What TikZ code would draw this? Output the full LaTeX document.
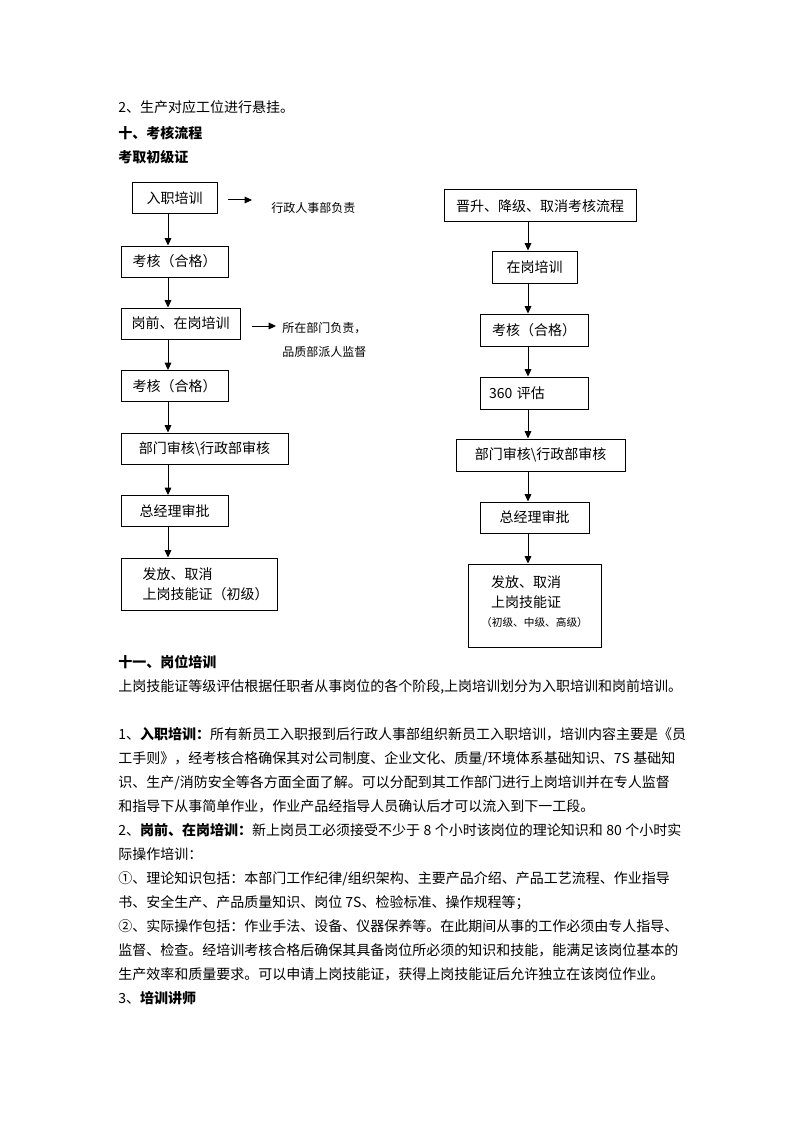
\documentclass[tikz,border=0pt]{standalone}
\usepackage{fontspec}
\setmainfont{Noto Sans CJK SC}
\usetikzlibrary{arrows.meta}
\XeTeXlinebreaklocale "zh"
\XeTeXlinebreakskip=0pt plus 2pt minus 0.3pt
\newcommand{\jline}[1]{\makebox[425.25pt][s]{#1}}
\newcommand{\wordgap}{\hspace{0.25em}}
\newcommand{\bodyfont}{\fontsize{10.5pt}{15pt}\selectfont}
\newcommand{\notefont}{\fontsize{9pt}{18pt}\selectfont}
\newcommand{\tinyfont}{\fontsize{8pt}{10pt}\selectfont}

\begin{document}
\begin{tikzpicture}[
    x=0.75pt, y=-0.75pt,
    box/.style={draw, line width=0.75pt, minimum height=23.25pt, inner sep=0pt, font=\bodyfont},
    note/.style={font=\notefont, inner sep=0pt, align=left},
    txtline/.style={font=\bodyfont, anchor=base west, inner sep=0pt},
    arr/.style={-{Triangle[length=5.5pt, width=5pt]}, line width=0.75pt},
]
\fill[white] (0,0) rectangle (794,1123);
\useasboundingbox (0,0) rectangle (794,1123);

% --- Heading lines ---
\node[txtline] (h1) at (118,113) {2、生产对应工位进行悬挂。};
\node[txtline] (h2) at (118,139) {\textbf{十、考核流程}};
\node[txtline] (h3) at (118,163) {\textbf{考取初级证}};

% --- Left column: initial certificate ---
\coordinate (lx) at (168,0);
\node[box, minimum width=63.75pt] (in1) at (174.5,198.5) {入职培训};
\node[box, minimum width=80.25pt] (ch1) at (174.5,261.5) {考核（合格）};
\node[box, minimum width=89.25pt] (tr1) at (180.5,323.5) {岗前、在岗培训};
\node[box, minimum width=80.25pt] (ch2) at (174.5,386) {考核（合格）};
\node[box, minimum width=125.25pt] (rv1) at (204.5,448.5) {部门审核\textbackslash 行政部审核};
\node[box, minimum width=80.25pt] (gm1) at (174.5,511) {总经理审批};
\node[box, anchor=west, align=left, inner xsep=6.75pt, minimum height=39pt] (is1) at (121,584) {\hspace*{9pt}发放、取消\\\hspace*{9pt}上岗技能证（初级）};

% --- Left column: side notes ---
\node[note, anchor=west] (nt1) at (271,208) {行政人事部负责};
\node[note, anchor=west] (nt2) at (282,340) {所在部门负责，\\品质部派人监督};
\coordinate (nt1s) at (228,200);
\coordinate (nt1e) at (252,200);
\coordinate (nt2s) at (252,326);
\coordinate (nt2e) at (276,326);

% --- Right column: promotion / demotion ---
\coordinate (rx) at (528,0);
\node[box, minimum width=144pt, minimum height=24pt] (pr0) at (540,206) {晋升、降级、取消考核流程};
\node[box, minimum width=63.75pt, minimum height=24pt] (tr2) at (534.5,267) {在岗培训};
\node[box, minimum width=81pt, minimum height=24pt] (ch3) at (534,330) {考核（合格）};
\node[box, text width=67.5pt, align=left, inner xsep=6.75pt, minimum height=24pt] (ev1) at (534,393) {360 评估};
\node[box, minimum width=126.75pt, minimum height=24pt] (rv2) at (540.5,455) {部门审核\textbackslash 行政部审核};
\node[box, minimum width=81.75pt] (gm2) at (534.5,517.5) {总经理审批};
\node[box, align=left, minimum width=99.75pt, minimum height=62.25pt] (is2) at (534.5,605.5) {\hspace*{7.5pt}发放、取消\\\hspace*{7.5pt}上岗技能证\\[-1.25pt]{\tinyfont（初级、中级、高级）\rule[-6.5pt]{0pt}{0pt}}};

% === Arrows: left column ===
\draw[arr] (in1.south -| lx) -- (ch1.north -| lx);
\draw[arr] (ch1.south -| lx) -- (tr1.north -| lx);
\draw[arr] (tr1.south -| lx) -- (ch2.north -| lx);
\draw[arr] (ch2.south -| lx) -- (rv1.north -| lx);
\draw[arr] (rv1.south -| lx) -- (gm1.north -| lx);
\draw[arr] (gm1.south -| lx) -- (is1.north -| lx);
\draw[arr] (nt1s) -- (nt1e);
\draw[arr] (nt2s) -- (nt2e);

% === Arrows: right column ===
\draw[arr] (pr0.south -| rx) -- (tr2.north -| rx);
\draw[arr] (tr2.south -| rx) -- (ch3.north -| rx);
\draw[arr] (ch3.south -| rx) -- (ev1.north -| rx);
\draw[arr] (ev1.south -| rx) -- (rv2.north -| rx);
\draw[arr] (rv2.south -| rx) -- (gm2.north -| rx);
\draw[arr] (gm2.south -| rx) -- (is2.north -| rx);

% --- Section 11: text lines ---
\foreach \txt [count=\i from 0] in {
    {\textbf{十一、岗位培训}},
    {\jline{上岗技能证等级评估根据任职者从事岗位的各个阶段,上岗培训划分为入职培训和岗前培训。}},
    {},
    {\jline{1、\textbf{入职培训：}所有新员工入职报到后行政人事部组织新员工入职培训，培训内容主要是《员}},
    {\jline{工手则》，经考核合格确保其对公司制度、企业文化、质量/环境体系基础知识、7S\wordgap 基础知}},
    {\jline{识、生产/消防安全等各方面全面了解。可以分配到其工作部门进行上岗培训并在专人监督}},
    {和指导下从事简单作业，作业产品经指导人员确认后才可以流入到下一工段。},
    {\jline{2、\textbf{岗前、在岗培训：}新上岗员工必须接受不少于\wordgap 8\wordgap 个小时该岗位的理论知识和\wordgap 80\wordgap 个小时实}},
    {际操作培训：},
    {\jline{①、理论知识包括：本部门工作纪律/组织架构、主要产品介绍、产品工艺流程、作业指导}},
    {书、安全生产、产品质量知识、岗位 7S、检验标准、操作规程等；},
    {\jline{②、实际操作包括：作业手法、设备、仪器保养等。在此期间从事的工作必须由专人指导、}},
    {\jline{监督、检查。经培训考核合格后确保其具备岗位所必须的知识和技能，能满足该岗位基本的}},
    {生产效率和质量要求。可以申请上岗技能证，获得上岗技能证后允许独立在该岗位作业。},
    {3、\textbf{培训讲师}}%
} \node[txtline] (p\i) at (118,{667+24*\i}) {\txt};

\end{tikzpicture}
\end{document}
